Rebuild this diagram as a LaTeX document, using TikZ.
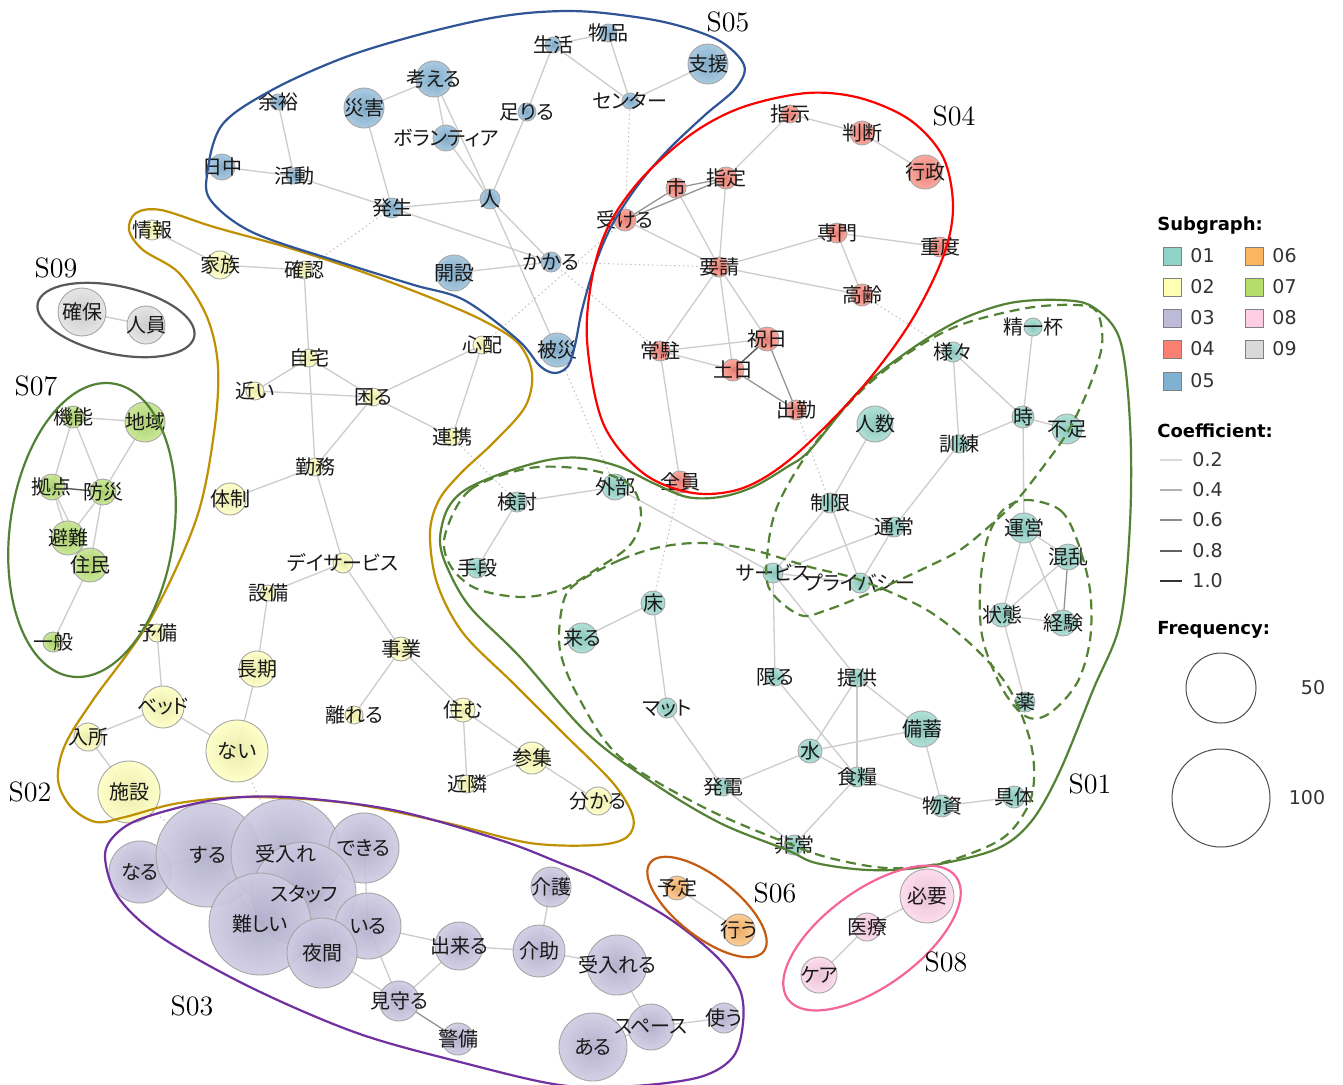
\documentclass[tikz,border=0pt]{standalone}
\usepackage{fontspec}
\newfontfamily\jpfont[RawFeature=+palt]{Noto Sans CJK JP}
\newfontfamily\legfont{DejaVu Sans}
\definecolor{c01}{HTML}{8DD3C7}
\definecolor{c02}{HTML}{FFFFB3}
\definecolor{c03}{HTML}{BEBADA}
\definecolor{c04}{HTML}{FB8072}
\definecolor{c05}{HTML}{80B1D3}
\definecolor{c06}{HTML}{FDB462}
\definecolor{c07}{HTML}{B3DE69}
\definecolor{c08}{HTML}{FCCDE5}
\definecolor{c09}{HTML}{D9D9D9}
\definecolor{h01}{HTML}{548235}
\definecolor{h02}{HTML}{BF9000}
\definecolor{h03}{HTML}{7030A0}
\definecolor{h04}{HTML}{FF0000}
\definecolor{h05}{HTML}{2F5597}
\definecolor{h06}{HTML}{C55A11}
\definecolor{h07}{HTML}{538135}
\definecolor{h08}{HTML}{F5649A}
\definecolor{h09}{HTML}{595959}
\pgfdeclarelayer{edges}
\pgfdeclarelayer{disks}
\pgfsetlayers{edges,disks,main}

\begin{document}
\begin{tikzpicture}
  [
    x=0.5pt, y=-0.5pt,
    wd/.style={circle, inner sep=0pt, draw=black!35, line width=0.45pt,
      fill opacity=0.9, inner color=#1!92!black, outer color=#1!75!white},
    lbl/.style={font=\jpfont\fontsize{10}{12}\selectfont, inner sep=0pt, text=black!90},
    link/.style={draw=black!20, line width=0.65pt},
    midlink/.style={draw=black!42, line width=0.65pt},
    darklink/.style={draw=black!65, line width=0.7pt},
    weak/.style={draw=black!25, line width=0.5pt, dash pattern=on 0.7pt off 1.5pt},
    hull/.style={line width=1.1pt},
    sub/.style={dash pattern=on 5pt off 3pt},
    sg/.style={font=\fontsize{14}{16}\selectfont, inner sep=0pt},
    legh/.style={font=\legfont\bfseries\fontsize{9}{11}\selectfont, inner sep=0pt, anchor=west},
    legt/.style={font=\legfont\fontsize{9.5}{11}\selectfont, inner sep=0pt, anchor=west, text=black!80},
    colbox/.style={draw=black!50, line width=0.4pt, minimum size=9pt, inner sep=0pt}
  ]
  \useasboundingbox (0,0) rectangle (1343,1084);

  % S05
  \foreach \nm/\x/\y/\rad/\txt in {
      seikatsu/553/45/8/生活, buppin/608/33/9/物品, shien/708/64/20/支援,
      senta/630/101/8/センター, kangaeru/434/79/18/考える, yoyu/278/102/8/余裕,
      saigai/364/108/20/災害, tariru/527/112/9/足りる, volunteer/446/138/13/ボランティア,
      nicchu/222/167/13/日中, katsudo/294/176/8/活動, hassei/392/208/10/発生,
      hito/490/199/10/人, kakaru/551/262/10/かかる, kaisetsu/454/273/18/開設,
      hisai/557/350/17/被災} {
    \begin{pgfonlayer}{disks}
      \node[wd=c05, minimum size=\rad pt] (\nm) at (\x,\y) {};
    \end{pgfonlayer}
    \node[lbl] (\nm-t) at (\nm) {\txt};
  }
  % S04
  \foreach \nm/\x/\y/\rad/\txt in {
      shiji/790/114/9/指示, handan/862/133/12/判断, gyosei/925/172/17/行政,
      shi/676/188/10/市, shitei/726/178/11/指定, ukeru/625/220/11/受ける,
      senmon/837/233/10/専門, judo/940/247/10/重度, yosei/719/267/10/要請,
      korei/862/295/11/高齢, shukujitsu/767/339/12/祝日, jochu/660/351/10/常駐,
      donichi/733/370/11/土日, shukkin/796/410/10/出勤, zenin/680/482/11/全員} {
    \begin{pgfonlayer}{disks}
      \node[wd=c04, minimum size=\rad pt] (\nm) at (\x,\y) {};
    \end{pgfonlayer}
    \node[lbl] (\nm-t) at (\nm) {\txt};
  }
  % S02
  \foreach \nm/\x/\y/\rad/\txt in {
      johou/152/230/10/情報, kazoku/220/265/14/家族, kakunin/304/270/9/確認,
      jitaku/309/358/9/自宅, chikai/255/391/9/近い, komaru/373/397/9/困る,
      shinpai/482/345/9/心配, renkei/452/437/9/連携, kinmu/315/467/9/勤務,
      taisei/230/499/16/体制, dayservice/343/563/10/デイサービス, setsubi/268/593/8/設備,
      jigyo/401/649/12/事業, choki/257/669/18/長期, hanareru/354/715/9/離れる,
      sumu/463/710/12/住む, yobi/157/633/9/予備, bed/163/707/21/ベッド,
      nyusho/88/737/14/入所, nai/237/751/31/ない, shisetsu/129/792/31/施設,
      sanshu/532/758/16/参集, kinrin/467/784/9/近隣, wakaru/598/801/14/分かる} {
    \begin{pgfonlayer}{disks}
      \node[wd=c02, minimum size=\rad pt] (\nm) at (\x,\y) {};
    \end{pgfonlayer}
    \node[lbl] (\nm-t) at (\nm) {\txt};
  }
  % S07
  \foreach \nm/\x/\y/\rad/\txt in {
      kino/73/417/11/機能, chiiki/145/422/20/地域, kyoten/52/487/13/拠点,
      bosai/103/492/13/防災, hinan/68/538/17/避難, jumin/90/565/17/住民,
      ippan/53/642/10/一般} {
    \begin{pgfonlayer}{disks}
      \node[wd=c07, minimum size=\rad pt] (\nm) at (\x,\y) {};
    \end{pgfonlayer}
    \node[lbl] (\nm-t) at (\nm) {\txt};
  }
  % S09
  \foreach \nm/\x/\y/\rad/\txt in {kakuho/82/312/24/確保, jinin/146/325/19/人員} {
    \begin{pgfonlayer}{disks}
      \node[wd=c09, minimum size=\rad pt] (\nm) at (\x,\y) {};
    \end{pgfonlayer}
    \node[lbl] (\nm-t) at (\nm) {\txt};
  }
  % S01
  \foreach \nm/\x/\y/\rad/\txt in {
      seiippai/1033/327/9/精一杯, samazama/953/352/10/様々, toki/1023/417/11/時,
      fusoku/1067/429/15/不足, ninzu/875/424/18/人数, kunren/959/444/9/訓練,
      gaibu/615/487/13/外部, kento/517/502/10/検討, seigen/830/503/10/制限,
      tsujo/894/527/10/通常, unei/1024/528/15/運営, konran/1068/557/13/混乱,
      shudan/477/568/10/手段, service/773/573/10/サービス, privacy/860/583/10/プライバシー,
      jotai/1002/615/12/状態, keiken/1063/623/13/経験, yuka/653/603/12/床,
      kuru/582/638/15/来る, kagiru/775/677/9/限る, teikyo/857/678/9/提供,
      kusuri/1025/702/10/薬, matto/667/708/10/マット, bichiku/922/729/18/備蓄,
      mizu/810/751/12/水, shokuryo/857/777/10/食糧, hatsuden/723/787/9/発電,
      busshi/942/806/11/物資, gutai/1014/797/11/具体, hijo/794/845/10/非常} {
    \begin{pgfonlayer}{disks}
      \node[wd=c01, minimum size=\rad pt] (\nm) at (\x,\y) {};
    \end{pgfonlayer}
    \node[lbl] (\nm-t) at (\nm) {\txt};
  }
  % S03
  \foreach \nm/\x/\y/\rad/\txt in {
      naru/140/872/31/なる, suru/208/855/52/する, ukeire/286/854/55/受入れ,
      dekiru/364/848/35/できる, staff/304/894/52/スタッフ, muzukashii/260/924/51/難しい,
      iru/368/926/33/いる, yakan/322/953/35/夜間, dekiru2/459/946/24/出来る,
      mimamoru/399/1001/20/見守る, keibi/458/1039/16/警備, kaigo/551/887/20/介護,
      kaijo/539/951/26/介助, ukeireru/617/965/30/受入れる, space/651/1027/23/スペース,
      tsukau/724/1018/15/使う, aru/593/1047/34/ある} {
    \begin{pgfonlayer}{disks}
      \node[wd=c03, minimum size=\rad pt] (\nm) at (\x,\y) {};
    \end{pgfonlayer}
    \node[lbl] (\nm-t) at (\nm) {\txt};
  }
  % S06
  \foreach \nm/\x/\y/\rad/\txt in {yotei/677/888/12/予定, okonau/739/930/16/行う} {
    \begin{pgfonlayer}{disks}
      \node[wd=c06, minimum size=\rad pt] (\nm) at (\x,\y) {};
    \end{pgfonlayer}
    \node[lbl] (\nm-t) at (\nm) {\txt};
  }
  % S08
  \foreach \nm/\x/\y/\rad/\txt in {hitsuyo/927/896/27/必要, iryo/867/927/14/医療, care/819/975/18/ケア} {
    \begin{pgfonlayer}{disks}
      \node[wd=c08, minimum size=\rad pt] (\nm) at (\x,\y) {};
    \end{pgfonlayer}
    \node[lbl] (\nm-t) at (\nm) {\txt};
  }

  % co-occurrence edges
  \begin{pgfonlayer}{edges}
    \fill[white] (0,0) rectangle (1343,1084);
    \foreach \a/\b in {
        seikatsu/buppin, seikatsu/senta, buppin/senta, senta/shien, seikatsu/tariru,
        tariru/hito, kangaeru/saigai, kangaeru/volunteer, kangaeru/hito, volunteer/hito,
        saigai/hassei, yoyu/katsudo, nicchu/katsudo, katsudo/hassei, hassei/hito,
        hassei/kakaru, hito/kakaru, hito/hisai, kaisetsu/kakaru,
        shiji/handan, handan/gyosei, shiji/shitei, shi/yosei, shitei/yosei, ukeru/yosei,
        yosei/senmon, senmon/judo, senmon/korei, yosei/korei, yosei/jochu, yosei/donichi,
        yosei/shukujitsu, jochu/shukujitsu, jochu/donichi, jochu/zenin,
        johou/kazoku, kazoku/kakunin, kakunin/jitaku, jitaku/chikai, jitaku/komaru,
        jitaku/kinmu, chikai/komaru, komaru/shinpai, komaru/renkei, shinpai/renkei,
        komaru/kinmu, kinmu/taisei, kinmu/dayservice, dayservice/setsubi, dayservice/jigyo,
        setsubi/choki, choki/nai, jigyo/hanareru, jigyo/sumu, sumu/kinrin, sumu/sanshu,
        kinrin/sanshu, sanshu/wakaru, yobi/bed, bed/nyusho, bed/nai, nyusho/shisetsu,
        kino/chiiki, kino/kyoten, kino/bosai, chiiki/bosai, kyoten/hinan, kyoten/jumin,
        bosai/hinan, bosai/jumin, jumin/ippan, kakuho/jinin,
        seiippai/toki, samazama/toki, samazama/kunren, toki/fusoku, toki/kunren, toki/unei,
        ninzu/seigen, kunren/tsujo, seigen/tsujo, seigen/service, seigen/privacy,
        tsujo/service, tsujo/privacy, service/privacy, service/gaibu, gaibu/kento,
        kento/shudan, service/kagiru, service/teikyo, kagiru/shokuryo, teikyo/mizu,
        teikyo/shokuryo, teikyo/bichiku, mizu/shokuryo, mizu/hatsuden, mizu/bichiku,
        shokuryo/hijo, hatsuden/hijo, matto/hatsuden, yuka/matto, yuka/kuru,
        bichiku/busshi, shokuryo/busshi, busshi/gutai, unei/konran, unei/jotai,
        unei/keiken, konran/jotai, jotai/keiken, jotai/kusuri,
        naru/suru, suru/ukeire, ukeire/staff, ukeire/dekiru, suru/muzukashii,
        staff/muzukashii, staff/yakan, staff/iru, dekiru/iru, muzukashii/yakan, yakan/iru,
        iru/dekiru2, iru/mimamoru, yakan/mimamoru, dekiru2/mimamoru, dekiru2/kaijo,
        kaigo/kaijo, kaijo/ukeireru, ukeireru/space, space/aru, space/tsukau,
        yotei/okonau, hitsuyo/iryo, iryo/care}
      \draw[link] (\a.center) -- (\b.center);
    \foreach \a/\b in {ukeru/shi, ukeru/shitei, shi/shitei, shukujitsu/shukkin,
        donichi/shukkin, konran/keiken, mimamoru/keibi}
      \draw[midlink] (\a.center) -- (\b.center);
    \foreach \a/\b in {shukujitsu/donichi, kyoten/bosai}
      \draw[darklink] (\a.center) -- (\b.center);
    % links between subgraphs
    \foreach \a/\b in {senta/ukeru, kakaru/yosei, kakaru/jochu, shinpai/ukeru,
        hassei/kakunin, hisai/gaibu, renkei/kento, zenin/yuka, shukkin/seigen,
        korei/samazama, nai/ukeire, shisetsu/suru}
      \draw[weak] (\a.center) -- (\b.center);
  \end{pgfonlayer}

  % subgraph outlines
  \draw[hull, draw=h02] plot[smooth cycle, tension=0.55] coordinates {
    (129,230) (136,213) (161,210) (214,227) (286,247) (357,270) (429,297) (482,320)
    (518,343) (532,373) (525,407) (493,443) (461,473) (439,500) (430,533) (437,583)
    (463,633) (513,683) (563,733) (613,783) (633,817) (627,837) (597,845) (530,843)
    (447,823) (347,803) (250,797) (179,803) (125,817) (96,822) (71,807) (58,780)
    (65,745) (93,700) (150,620) (196,520) (214,433) (218,367) (207,317) (179,273)
    (143,250)};
  \draw[hull, draw=h05] plot[smooth cycle, tension=0.55] coordinates {
    (207,175) (222,125) (272,90) (343,58) (414,36) (486,19) (540,12) (593,12)
    (664,22) (718,40) (744,65) (736,88) (705,115) (668,150) (638,185) (612,225)
    (595,265) (582,310) (575,345) (568,366) (555,373) (540,366) (518,340) (464,300)
    (414,285) (343,263) (254,233) (212,202)};
  \draw[hull, draw=h01] plot[smooth cycle, tension=0.55] coordinates {
    (440,540) (447,510) (465,490) (503,473) (548,460) (583,458) (620,467) (653,483)
    (687,497) (720,497) (753,487) (787,467) (810,450) (860,390) (910,350) (960,320)
    (1010,303) (1060,300) (1093,307) (1120,340) (1130,423) (1130,523) (1120,623)
    (1093,690) (1059,773) (1030,823) (994,850) (923,867) (869,870) (816,863)
    (787,850) (720,823) (653,783) (587,733) (520,657) (470,607) (447,567)};
  \draw[hull, sub, draw=h01] plot[smooth cycle, tension=0.55] coordinates {
    (445,535) (470,490) (530,468) (590,470) (630,485) (641,515) (630,545) (595,570)
    (560,590) (520,597) (475,588) (450,565)};
  \draw[hull, sub, draw=h01] plot[smooth cycle, tension=0.55] coordinates {
    (577,583) (620,560) (660,547) (703,543) (753,550) (810,567) (860,580) (927,610)
    (977,650) (1010,690) (1030,740) (1034,780) (1026,810) (1000,840) (941,863)
    (887,868) (830,858) (787,843) (703,807) (620,757) (580,700) (560,650) (563,603)};
  \draw[hull, sub, draw=h01] plot[smooth cycle, tension=0.55] coordinates {
    (800,615) (770,590) (767,557) (777,507) (810,450) (860,392) (910,352) (960,325)
    (1027,308) (1077,305) (1097,312) (1102,345) (1088,390) (1067,433) (1043,467)
    (1017,500) (993,523) (960,550) (927,567) (877,590) (827,610)};
  \draw[hull, sub, draw=h01] plot[smooth cycle, tension=0.55] coordinates {
    (1027,500) (1060,510) (1077,540) (1090,590) (1090,640) (1077,683) (1050,713)
    (1027,717) (1003,690) (983,640) (980,590) (987,540) (1003,510)};
  \draw[hull, draw=h04] plot[smooth cycle, tension=0.55] coordinates {
    (807,93) (860,98) (910,120) (943,157) (953,207) (943,257) (910,323) (860,390)
    (793,457) (743,488) (693,493) (643,473) (603,423) (587,340) (593,273) (610,223)
    (643,177) (693,133) (743,107)};
  \draw[hull, draw=h03] plot[smooth cycle, tension=0.55] coordinates {
    (105,857) (115,835) (143,818) (214,800) (286,797) (393,810) (500,840) (560,863)
    (600,880) (667,917) (717,957) (740,990) (743,1023) (733,1057) (700,1077)
    (633,1086) (560,1085) (464,1063) (357,1033) (250,987) (161,937) (118,897)};
  \draw[hull, draw=h09, rotate around={-12:(116,320)}] (116,320) ellipse [x radius=40pt, y radius=17pt];
  \draw[hull, draw=h07, rotate around={-8:(92,530)}] (92,530) ellipse [x radius=41pt, y radius=74pt];
  \draw[hull, draw=h06, rotate around={-38:(707,907)}] (707,907) ellipse [x radius=36pt, y radius=15pt];
  \draw[hull, draw=h08, rotate around={36:(872,938)}] (872,938) ellipse [x radius=52pt, y radius=24pt];

  % subgraph names
  \node[sg] (s01) at (1090,784) {S01};
  \node[sg] (s02) at (30,792) {S02};
  \node[sg] (s03) at (192,1006) {S03};
  \node[sg] (s04) at (954,116) {S04};
  \node[sg] (s05) at (728,22) {S05};
  \node[sg] (s06) at (775,893) {S06};
  \node[sg] (s07) at (36,386) {S07};
  \node[sg] (s08) at (946,962) {S08};
  \node[sg] (s09) at (56,268) {S09};

  % legend
  \node[legh] (subgraph) at (1157,226) {Subgraph:};
  \foreach \i/\x/\y in {01/1163/256, 02/1163/287, 03/1163/318, 04/1163/349, 05/1163/381,
      06/1245/256, 07/1245/287, 08/1245/318, 09/1245/349} {
    \node[colbox, fill=c\i] (box\i) at (\x+9,\y) {};
    \node[legt] (lab\i) at (\x+27,\y) {\i};
  }
  \node[legh] (coef) at (1157,431) {Coefficient:};
  \foreach \v/\g/\y [count=\k] in {0.2/15/460, 0.4/30/490, 0.6/45/520, 0.8/62/551, 1.0/80/581} {
    \node[legt] (co\k) at (1192,\y) {\v};
    \coordinate (cs\k) at (1160,\y);
    \draw[black!\g, line width=0.75pt] (cs\k) -- ([xshift=-5pt]co\k.west);
  }
  \node[legh] (freq) at (1157,630) {Frequency:};
  \node[circle, draw=black!70, line width=0.5pt, minimum size=35pt, inner sep=0pt] (f50) at (1221,688) {};
  \node[legt, anchor=center] (f50t) at (1313,688) {50};
  \node[circle, draw=black!70, line width=0.5pt, minimum size=49pt, inner sep=0pt] (f100) at (1221,798) {};
  \node[legt, anchor=center] (f100t) at (1307,798) {100};
\end{tikzpicture}
\end{document}
